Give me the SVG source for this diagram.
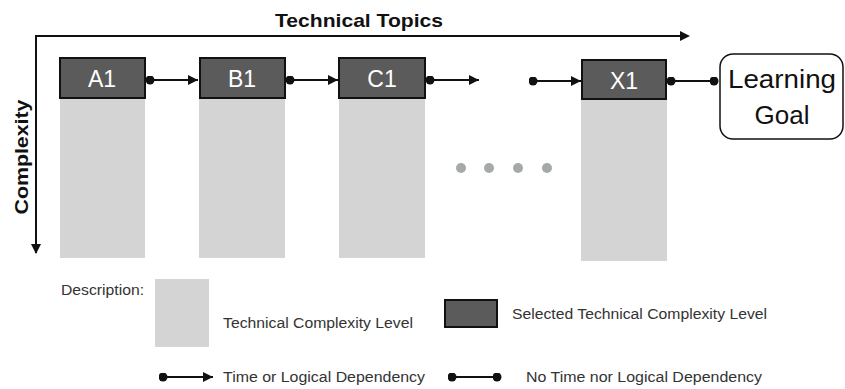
<svg xmlns="http://www.w3.org/2000/svg" width="845" height="389" viewBox="0 0 845 389">
<style>
text{font-family:"Liberation Sans",Arial,sans-serif;fill:#111}
.col{fill:#d4d4d4}
.sel{fill:#5b5b5b;stroke:#111;stroke-width:2}
.lbl{fill:#fff;font-size:23px;text-anchor:middle}
.conn{stroke:#111;stroke-width:2;fill:none}
.leg{font-size:14px;fill:#333}
.dot{fill:#a6a9a9}
</style>
<defs>
<marker id="dot" viewBox="0 0 10 10" refX="5" refY="5" markerWidth="9" markerHeight="9" markerUnits="userSpaceOnUse"><circle cx="5" cy="5" r="5" fill="#111"/></marker>
<marker id="arr" viewBox="0 0 10 10" refX="10" refY="5" markerWidth="11" markerHeight="10" markerUnits="userSpaceOnUse" orient="auto"><path d="M0,0L10,5L0,10Z" fill="#111"/></marker>
</defs>
<g id="axes">
<path class="conn" d="M36,253V36H681"/>
<path d="M690,36L680,31V41Z" fill="#111"/>
<path d="M36,254L31,244H41Z" fill="#111"/>
<text x="359" y="27" font-size="19" font-weight="bold" text-anchor="middle" textLength="168" lengthAdjust="spacingAndGlyphs">Technical Topics</text>
<text transform="translate(28,157) rotate(-90)" font-size="19" font-weight="bold" text-anchor="middle" textLength="115" lengthAdjust="spacingAndGlyphs">Complexity</text>
</g>
<g id="A1">
<rect class="col" x="60" y="98" width="85" height="160"/>
<rect class="sel" x="60" y="58" width="85" height="40"/>
<text class="lbl" x="102" y="87">A1</text>
</g>
<g id="B1">
<rect class="col" x="199" y="98" width="86" height="160"/>
<rect class="sel" x="200" y="58" width="85" height="40"/>
<text class="lbl" x="242" y="87">B1</text>
</g>
<g id="C1">
<rect class="col" x="339" y="98" width="86" height="160"/>
<rect class="sel" x="339" y="58" width="86" height="40"/>
<text class="lbl" x="382" y="87">C1</text>
</g>
<g id="ellipsis">
<circle class="dot" cx="461" cy="168" r="5"/>
<circle class="dot" cx="489" cy="168" r="5"/>
<circle class="dot" cx="518" cy="168" r="5"/>
<circle class="dot" cx="547" cy="168" r="5"/>
</g>
<g id="X1">
<rect class="col" x="581" y="99" width="86" height="162"/>
<rect class="sel" x="582" y="60" width="84" height="39"/>
<text class="lbl" x="624" y="89">X1</text>
</g>
<g id="goal">
<rect x="720" y="54" width="123" height="85" rx="13" fill="#fff" stroke="#111" stroke-width="1.5"/>
<text x="782" y="88" font-size="26" text-anchor="middle" textLength="108" lengthAdjust="spacingAndGlyphs">Learning</text>
<text x="782" y="124" font-size="26" text-anchor="middle">Goal</text>
</g>
<g id="connectors">
<path class="conn" d="M150,80H198" marker-start="url(#dot)" marker-end="url(#arr)"/>
<path class="conn" d="M290,80H338" marker-start="url(#dot)" marker-end="url(#arr)"/>
<path class="conn" d="M430,80H479" marker-start="url(#dot)" marker-end="url(#arr)"/>
<path class="conn" d="M533,81H581" marker-start="url(#dot)" marker-end="url(#arr)"/>
<path class="conn" d="M671,81H714" marker-start="url(#dot)" marker-end="url(#dot)"/>
</g>
<g id="legend">
<text class="leg" x="61" y="295" textLength="83" lengthAdjust="spacingAndGlyphs">Description:</text>
<rect class="col" x="155" y="279" width="54" height="68"/>
<text class="leg" x="223" y="328" textLength="190" lengthAdjust="spacingAndGlyphs">Technical Complexity Level</text>
<rect class="sel" x="445" y="300" width="52" height="27"/>
<text class="leg" x="512" y="319" textLength="255" lengthAdjust="spacingAndGlyphs">Selected Technical Complexity Level</text>
<path class="conn" d="M163,377H213" marker-start="url(#dot)" marker-end="url(#arr)"/>
<text class="leg" x="223" y="382" textLength="202" lengthAdjust="spacingAndGlyphs">Time or Logical Dependency</text>
<path class="conn" d="M452,377H497" marker-start="url(#dot)" marker-end="url(#dot)"/>
<text class="leg" x="526" y="382" textLength="236" lengthAdjust="spacingAndGlyphs">No Time nor Logical Dependency</text>
</g>
</svg>
